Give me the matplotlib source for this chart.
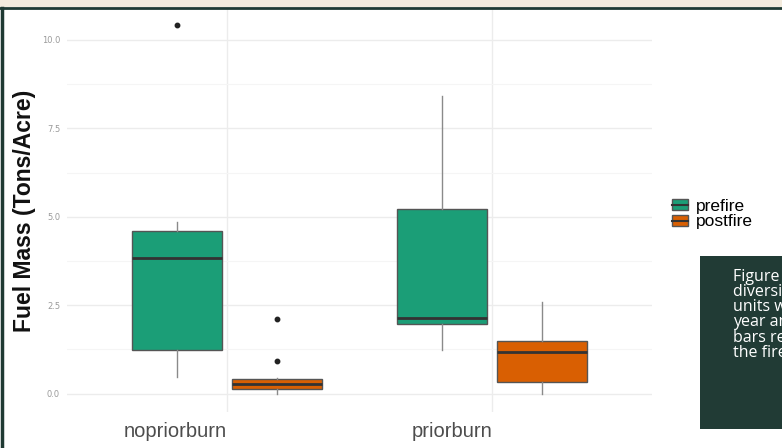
import matplotlib.pyplot as plt
from matplotlib.patches import Rectangle, Patch
from matplotlib.lines import Line2D

# values
burn_groups = ["nopriorburn", "priorburn"]
fire_stages = ["prefire", "postfire"]
stage_colors = ["#1b9e77", "#d95f02"]

# per (group, stage): whisker low, q1, median, q3, whisker high
whislo = [[0.48, 0.0], [1.22, 0.0]]
q1 = [[1.22, 0.14], [1.98, 0.34]]
med = [[3.82, 0.28], [2.15, 1.19]]
q3 = [[4.59, 0.42], [5.21, 1.50]]
whishi = [[4.84, 0.45], [8.41, 2.58]]
fliers = [[[10.42], [2.12, 0.93]], [[], []]]

y_ticks = [0.0, 2.5, 5.0, 7.5, 10.0]
y_label = "Fuel Mass (Tons/Acre)"
caption = "Figure 3: Fuel load\ndiversity in burn\nunits with prior\nyear and no prior\nbars represent\nthe fire"

W, H = 782, 448
fig = plt.figure(figsize=(W / 100, H / 100), dpi=100)
fig.patch.set_facecolor("white")

# slide decorations: beige strip, dark frame lines
fig.patches.append(Rectangle((0, 1 - 7 / H), 1, 7 / H, transform=fig.transFigure,
                             facecolor="#f3ebdd", edgecolor="none", zorder=0))
fig.add_artist(Line2D([0, 1], [1 - 8 / H, 1 - 8 / H], transform=fig.transFigure,
                      color="#1f3a33", lw=2))
fig.add_artist(Line2D([1.5 / W, 1.5 / W], [0, 1 - 8 / H], transform=fig.transFigure,
                      color="#1f3a33", lw=2.5))

ax = fig.add_axes([67 / W, 36 / H, (652 - 67) / W, (440 - 36) / H])
ax.set_facecolor("white")

offset = 0.19
width = 0.34
for g in range(len(burn_groups)):
    for s in range(len(fire_stages)):
        stats = [dict(med=med[g][s], q1=q1[g][s], q3=q3[g][s],
                      whislo=whislo[g][s], whishi=whishi[g][s],
                      fliers=fliers[g][s])]
        pos = g + 1 + (offset if s == 1 else -offset)
        ax.bxp(stats, positions=[pos], widths=width, patch_artist=True,
               showcaps=False,
               boxprops=dict(facecolor=stage_colors[s], edgecolor="#555555", lw=1),
               medianprops=dict(color="#333333", lw=2),
               whiskerprops=dict(color="#8a8a8a", lw=1),
               flierprops=dict(marker="o", markersize=3.2, markerfacecolor="#222222",
                               markeredgecolor="#222222"),
               manage_ticks=False, zorder=3)

ax.set_xlim(0.396, 2.604)
ax.set_ylim(-0.52, 10.9)
ax.set_yticks(y_ticks)
ax.set_yticklabels([f"{t:.1f}" for t in y_ticks], fontsize=6, color="#9a9a9a")
ax.set_yticks([1.25, 3.75, 6.25, 8.75], minor=True)
ax.set_xticks([1, 2])
ax.set_xticklabels(burn_groups, fontsize=14.5, color="#4d4d4d", ha="right",
                   family="Liberation Sans")
ax.tick_params(axis="both", which="both", length=0)
ax.tick_params(axis="x", pad=7)
ax.tick_params(axis="y", pad=5)
ax.grid(True, which="major", color="#ececec", lw=1)
ax.grid(True, which="minor", axis="y", color="#f5f5f5", lw=0.8)
ax.set_axisbelow(True)
for sp in ax.spines.values():
    sp.set_visible(False)

fig.text(25 / W, 1 - 211 / H, y_label, rotation=90, ha="center", va="center",
         fontsize=16.5, fontweight="bold", family="Liberation Sans", color="#111111")

handles = [(Patch(facecolor=c, edgecolor="#555555"),
            Line2D([], [], color="#333333", lw=1.5)) for c in stage_colors]
fig.legend(handles, fire_stages, loc="center left", bbox_to_anchor=(663 / W, 1 - 214 / H),
           frameon=False, handlelength=0.95, handleheight=0.6,
           handletextpad=0.45, labelspacing=0.05, borderpad=0,
           prop=dict(family="Liberation Sans", size=12.5))

# overlapping caption box from the slide
box = Rectangle((700 / W, 1 - 429 / H), 82 / W, 173 / H, transform=fig.transFigure,
                facecolor="#213b35", edgecolor="none", zorder=5)
fig.add_artist(box)
cap = fig.text(733 / W, 1 - 269 / H, caption, ha="left", va="top", color="white",
               fontsize=11.5, linespacing=0.93, family="Open Sans", zorder=6)
cap.set_clip_path(box)

fig.savefig("out.png", dpi=100)
